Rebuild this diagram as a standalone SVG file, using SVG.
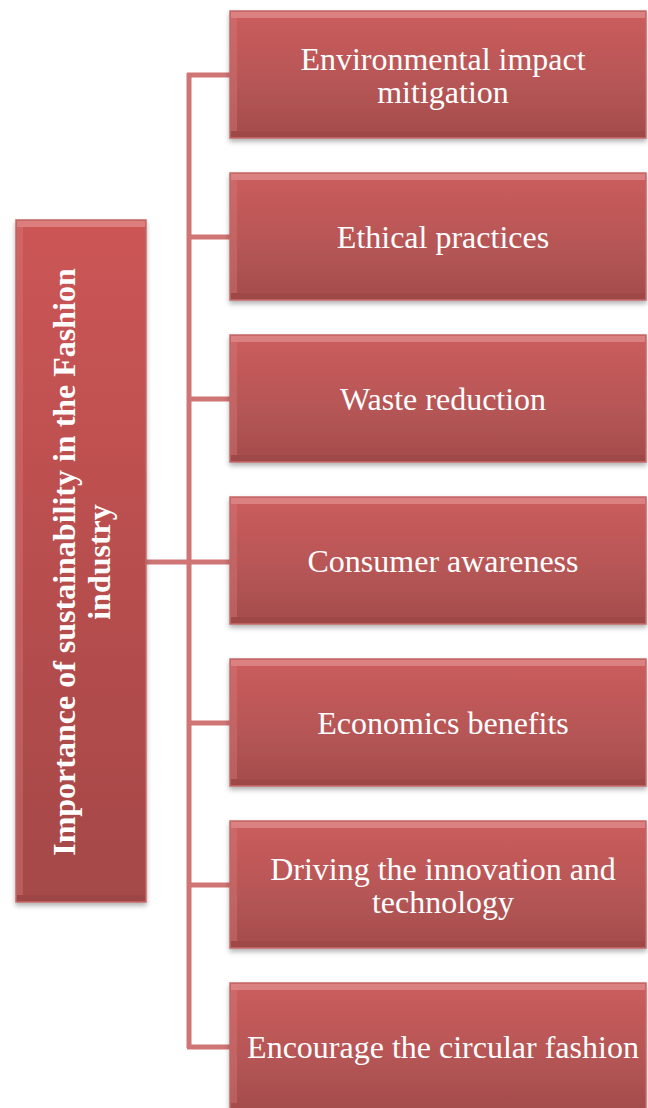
<svg xmlns="http://www.w3.org/2000/svg" width="648" height="1108" viewBox="0 0 648 1108">
<defs>
<linearGradient id="g" x1="0" y1="0" x2="0" y2="1">
<stop offset="0" stop-color="#cc5c5c"/>
<stop offset="0.5" stop-color="#b95757"/>
<stop offset="1" stop-color="#a44c4c"/>
</linearGradient>
<linearGradient id="gl" x1="0" y1="0" x2="0" y2="1">
<stop offset="0" stop-color="#cc5555"/>
<stop offset="1" stop-color="#a54848"/>
</linearGradient>
<filter id="sh" x="-10%" y="-10%" width="120%" height="130%">
<feDropShadow dx="0" dy="3" stdDeviation="2.5" flood-color="#000" flood-opacity="0.3"/>
</filter>
</defs>
<style>
.box{fill:url(#g);stroke:#c46a6a;stroke-width:1.5;filter:url(#sh)}
.top{fill:#e89a9a;opacity:0.6}
.side{fill:#d57a7a;opacity:0.4}
.bot{fill:#8f3f3f;opacity:0.3}
.t{font-family:"Liberation Serif","Times New Roman",serif;font-size:32px;fill:#fff;text-anchor:middle}
.lt{font-family:"Liberation Serif","Times New Roman",serif;font-size:32px;font-weight:bold;fill:#fff;text-anchor:middle}
.c{stroke:#cf7575;stroke-width:5;fill:none}
</style>
<g id="connectors">
<line class="c" x1="189" y1="73" x2="189" y2="1048"/>
<line class="c" x1="187" y1="75" x2="231" y2="75"/>
<line class="c" x1="187" y1="237" x2="231" y2="237"/>
<line class="c" x1="187" y1="399" x2="231" y2="399"/>
<line class="c" x1="146" y1="562" x2="231" y2="562"/>
<line class="c" x1="187" y1="723" x2="231" y2="723"/>
<line class="c" x1="187" y1="885" x2="231" y2="885"/>
<line class="c" x1="187" y1="1047" x2="231" y2="1047"/>
</g>
<g id="root">
<rect class="box" x="16" y="220" width="130" height="682" style="fill:url(#gl)"/>
<rect class="top" x="17" y="221" width="128" height="6"/>
<rect class="side" x="17" y="227" width="6" height="668"/>
<rect class="bot" x="17" y="895" width="128" height="6"/>
<text class="lt" transform="translate(80,562) rotate(-90)"><tspan x="0" y="-5">Importance of sustainability in the Fashion</tspan><tspan x="0" y="30">industry</tspan></text>
</g>
<g id="n1">
<rect class="box" x="230" y="11" width="416" height="127"/>
<rect class="top" x="231" y="12" width="414" height="6"/>
<rect class="side" x="231" y="18" width="6" height="113"/>
<rect class="bot" x="231" y="131" width="414" height="6"/>
<text class="t" x="443" y="70">Environmental impact</text>
<text class="t" x="443" y="103">mitigation</text>
</g>
<g id="n2">
<rect class="box" x="230" y="173" width="416" height="127"/>
<rect class="top" x="231" y="174" width="414" height="6"/>
<rect class="side" x="231" y="180" width="6" height="113"/>
<rect class="bot" x="231" y="293" width="414" height="6"/>
<text class="t" x="443" y="248">Ethical practices</text>
</g>
<g id="n3">
<rect class="box" x="230" y="335" width="416" height="127"/>
<rect class="top" x="231" y="336" width="414" height="6"/>
<rect class="side" x="231" y="342" width="6" height="113"/>
<rect class="bot" x="231" y="455" width="414" height="6"/>
<text class="t" x="443" y="410">Waste reduction</text>
</g>
<g id="n4">
<rect class="box" x="230" y="497" width="416" height="127"/>
<rect class="top" x="231" y="498" width="414" height="6"/>
<rect class="side" x="231" y="504" width="6" height="113"/>
<rect class="bot" x="231" y="617" width="414" height="6"/>
<text class="t" x="443" y="572">Consumer awareness</text>
</g>
<g id="n5">
<rect class="box" x="230" y="659" width="416" height="127"/>
<rect class="top" x="231" y="660" width="414" height="6"/>
<rect class="side" x="231" y="666" width="6" height="113"/>
<rect class="bot" x="231" y="779" width="414" height="6"/>
<text class="t" x="443" y="734">Economics benefits</text>
</g>
<g id="n6">
<rect class="box" x="230" y="821" width="416" height="127"/>
<rect class="top" x="231" y="822" width="414" height="6"/>
<rect class="side" x="231" y="828" width="6" height="113"/>
<rect class="bot" x="231" y="941" width="414" height="6"/>
<text class="t" x="443" y="880">Driving the innovation and</text>
<text class="t" x="443" y="913">technology</text>
</g>
<g id="n7">
<rect class="box" x="230" y="983" width="416" height="127"/>
<rect class="top" x="231" y="984" width="414" height="6"/>
<rect class="side" x="231" y="990" width="6" height="113"/>
<text class="t" x="443" y="1058">Encourage the circular fashion</text>
</g>
</svg>
